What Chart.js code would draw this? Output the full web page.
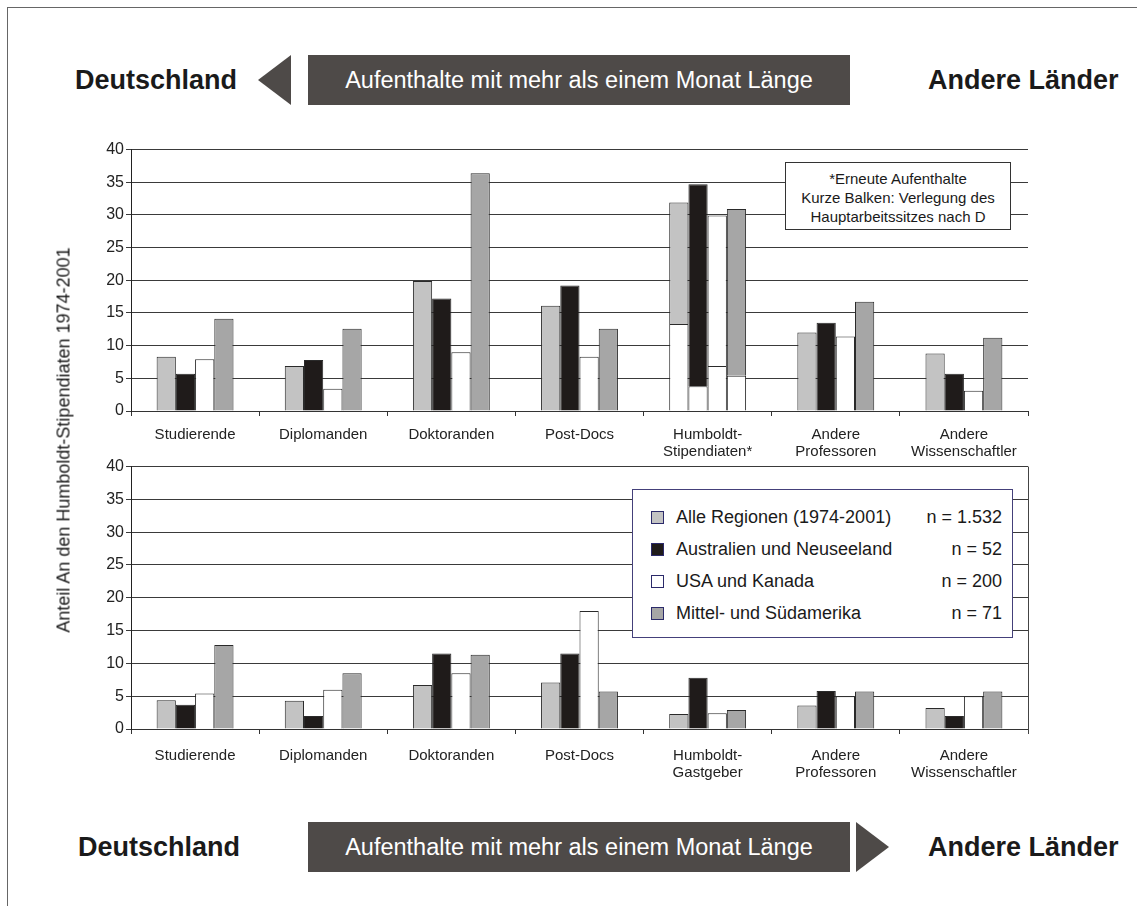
<!DOCTYPE html>
<html lang="de">
<head>
<meta charset="UTF-8">
<title>Aufenthalte mit mehr als einem Monat Länge</title>
<script src="https://cdn.jsdelivr.net/npm/chart.js"></script>
<style>
  body { margin: 0; background: #fff; font-family: "Liberation Sans", Arial, sans-serif; color: #1a1a1a; }
  #page { position: relative; width: 1137px; height: 906px; overflow: hidden; }
  .frame-top { position: absolute; left: 7px; top: 7px; width: 1130px; height: 1px; background: #666; }
  .frame-left { position: absolute; left: 7px; top: 7px; width: 1px; height: 899px; background: #666; }
  .big { position: absolute; font-weight: bold; font-size: 27px; line-height: 30px; }
  .banner { position: absolute; left: 308px; width: 542px; height: 50px; background: #4e4a48;
            color: #fff; font-size: 23.5px; line-height: 50px; text-align: center; }
  .arrow { position: absolute; width: 33px; height: 50px; background: #4e4a48; }
  canvas { position: absolute; }
  #ytitle { position: absolute; left: 64px; top: 440px; font-size: 18px; white-space: nowrap;
            transform: translate(-50%, -50%) rotate(-90deg); }
  #note { position: absolute; left: 785px; top: 162px; width: 226px; height: 68px; border: 1px solid #333;
          background: #fff; font-size: 15px; line-height: 19px; text-align: center; padding-top: 6px; box-sizing: border-box; }
  #legend { position: absolute; left: 632px; top: 489px; width: 381px; height: 149px; border: 1px solid #44407a;
            background: #fff; box-sizing: border-box; }
  .row { position: absolute; left: 0; width: 100%; height: 30px; font-size: 18px; line-height: 30px; }
  .row .box { position: absolute; left: 18px; top: 9px; width: 11px; height: 11px; border: 1px solid #2b2a6a; }
  .row .lab { position: absolute; left: 43px; }
  .row .n { position: absolute; right: 10px; }
</style>
</head>
<body>
<div id="page">
  <div class="frame-top"></div>
  <div class="frame-left"></div>

  <div class="big" style="left:75px; top:65px;">Deutschland</div>
  <div class="arrow" style="left:258px; top:55px; clip-path: polygon(0 50%, 100% 0, 100% 100%);"></div>
  <div class="banner" style="top:55px;">Aufenthalte mit mehr als einem Monat Länge</div>
  <div class="big" style="left:928px; top:65px;">Andere Länder</div>

  <canvas id="top" width="970" height="322" style="left:70px; top:138px;"></canvas>
  <canvas id="bottom" width="970" height="345" style="left:70px; top:455px;"></canvas>

  <div id="ytitle">Anteil An den Humboldt-Stipendiaten 1974-2001</div>

  <div id="note">*Erneute Aufenthalte<br>Kurze Balken: Verlegung des<br>Hauptarbeitssitzes nach D</div>

  <div id="legend"></div>

  <div class="big" style="left:78px; top:832px;">Deutschland</div>
  <div class="banner" style="top:822px;">Aufenthalte mit mehr als einem Monat Länge</div>
  <div class="arrow" style="left:856px; top:822px; clip-path: polygon(0 0, 100% 50%, 0 100%);"></div>
  <div class="big" style="left:928px; top:832px;">Andere Länder</div>
</div>

<script>
  // Kategorien
  const topCategories = ['Studierende', 'Diplomanden', 'Doktoranden', 'Post-Docs',
    ['Humboldt-', 'Stipendiaten*'], ['Andere', 'Professoren'], ['Andere', 'Wissenschaftler']];
  const bottomCategories = ['Studierende', 'Diplomanden', 'Doktoranden', 'Post-Docs',
    ['Humboldt-', 'Gastgeber'], ['Andere', 'Professoren'], ['Andere', 'Wissenschaftler']];

  // Serien
  const seriesNames = ['Alle Regionen (1974-2001)', 'Australien und Neuseeland', 'USA und Kanada', 'Mittel- und Südamerika'];
  const seriesN = ['n = 1.532', 'n = 52', 'n = 200', 'n = 71'];
  const seriesColors = ['#c3c3c3', '#1f1b1a', '#ffffff', '#a6a6a6'];

  // oben: nach Deutschland
  const topAlle = [8.3, 6.9, 19.9, 16.1, 31.9, 12.0, 8.8];
  const topAustralien = [5.7, 7.8, 17.2, 19.2, 34.7, 13.5, 5.7];
  const topUSA = [7.9, 3.4, 9.0, 8.3, 29.9, 11.4, 3.1];
  const topMittelSued = [14.1, 12.6, 36.4, 12.6, 30.9, 16.7, 11.2];
  // kurze Balken: Verlegung des Hauptarbeitssitzes nach D
  const shortAlle = [null, null, null, null, 13.3, null, null];
  const shortAustralien = [null, null, null, null, 3.8, null, null];
  const shortUSA = [null, null, null, null, 6.9, null, null];
  const shortMittelSued = [null, null, null, null, 5.4, null, null];

  // unten: in andere Länder
  const bottomAlle = [4.4, 4.3, 6.7, 7.1, 2.3, 3.6, 3.2];
  const bottomAustralien = [3.7, 2.0, 11.5, 11.5, 7.8, 5.8, 2.0];
  const bottomUSA = [5.4, 6.0, 8.5, 18.0, 2.4, 5.0, 5.0];
  const bottomMittelSued = [12.8, 8.5, 11.3, 5.7, 2.9, 5.7, 5.7];

  const yTicks = [0, 5, 10, 15, 20, 25, 30, 35, 40];

  const FONT = "'Liberation Sans', Arial, sans-serif";

  function buildDatasets(values, shorts) {
    const ds = [];
    values.forEach((vals, i) => {
      const sh = shorts ? shorts[i] : vals.map(() => null);
      ds.push({
        data: sh, backgroundColor: '#ffffff', borderColor: '#2a2a2a', borderWidth: 1,
        stack: 's' + i, categoryPercentage: 0.6, barPercentage: 1.0
      });
      ds.push({
        data: vals.map((v, k) => sh[k] == null ? v : v - sh[k]),
        backgroundColor: seriesColors[i], borderColor: '#2a2a2a', borderWidth: 1,
        stack: 's' + i, categoryPercentage: 0.6, barPercentage: 1.0
      });
    });
    return ds;
  }

  // rechte Rahmenlinie (nur unten)
  const rightEdge = {
    id: 'rightEdge',
    afterDraw(chart, args, opts) {
      if (!opts.show) return;
      const { ctx, chartArea } = chart;
      ctx.save();
      ctx.strokeStyle = '#444';
      ctx.lineWidth = 1;
      ctx.beginPath();
      ctx.moveTo(chartArea.right + 0.5, chartArea.top);
      ctx.lineTo(chartArea.right + 0.5, chartArea.bottom + 5);
      ctx.stroke();
      ctx.restore();
    }
  };

  function makeChart(id, labels, datasets, xHeight, labelPad, edge) {
    return new Chart(document.getElementById(id), {
      type: 'bar',
      data: { labels: labels, datasets: datasets },
      plugins: [rightEdge],
      options: {
        responsive: false,
        animation: false,
        layout: { padding: { left: 11, right: 12, top: 10, bottom: 0 } },
        plugins: { legend: { display: false }, tooltip: { enabled: false }, rightEdge: { show: edge } },
        scales: {
          x: {
            stacked: true,
            grid: { drawOnChartArea: false, tickLength: 5, color: '#333', offset: true },
            border: { color: '#333' },
            ticks: { color: '#222', autoSkip: false, maxRotation: 0, padding: labelPad,
              font: { family: FONT, size: 15, lineHeight: 1.1 } },
            afterFit: s => { s.height = xHeight; }
          },
          y: {
            stacked: true, min: 0, max: 40,
            afterBuildTicks: s => { s.ticks = yTicks.map(v => ({ value: v })); },
            grid: { color: '#3a3a3a', tickLength: 5 },
            border: { color: '#222' },
            ticks: { color: '#222', padding: 2, font: { family: FONT, size: 16 } },
            afterFit: s => { s.width = 50; }
          }
        }
      }
    });
  }

  makeChart('top', topCategories,
    buildDatasets([topAlle, topAustralien, topUSA, topMittelSued],
                  [shortAlle, shortAustralien, shortUSA, shortMittelSued]), 49, 11, false);
  makeChart('bottom', bottomCategories,
    buildDatasets([bottomAlle, bottomAustralien, bottomUSA, bottomMittelSued], null), 71, 14, true);

  // Legende
  const legend = document.getElementById('legend');
  seriesNames.forEach((name, i) => {
    const row = document.createElement('div');
    row.className = 'row';
    row.style.top = (12 + i * 32) + 'px';
    row.innerHTML = '<span class="box" style="background:' + seriesColors[i] + '"></span>' +
      '<span class="lab">' + name + '</span><span class="n">' + seriesN[i] + '</span>';
    legend.appendChild(row);
  });
</script>
</body>
</html>
